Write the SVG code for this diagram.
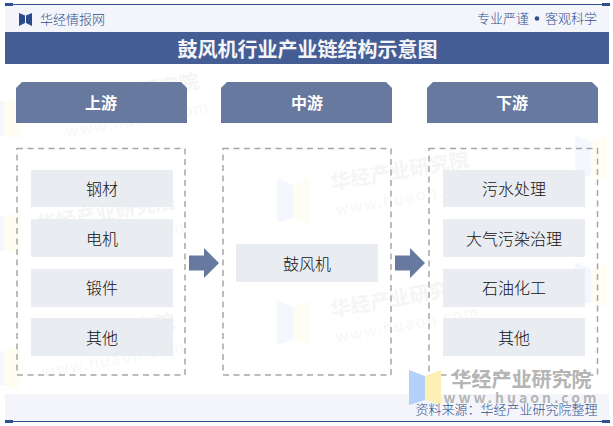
<svg xmlns="http://www.w3.org/2000/svg" xmlns:xlink="http://www.w3.org/1999/xlink" width="613" height="426" viewBox="0 0 613 426">
<style>
text{font-family:"Noto Sans CJK SC","Liberation Sans",sans-serif;text-anchor:middle}
.hd{fill:#67799f}
.hdt{font-size:16px;font-weight:700;fill:#fff}
.box{fill:none;stroke:#a6a6a6;stroke-width:1.5;stroke-dasharray:6 4.5}
.item{fill:#e9ecf1}
.t{font-size:16px;fill:#111;font-weight:300}
.nav{fill:#2f4f8f;font-size:13px;font-weight:300}
.wm{font-size:20px;font-weight:700;fill:#f5f5f5;text-anchor:start}
.wu{font-size:16px;fill:#f7f7f7;text-anchor:start;letter-spacing:1.5px}
.tab{fill:#2f4f8f}
</style>
<defs>
<g id="mark">
<g transform="rotate(-10)">
<text class="wm" x="0" y="0">华经产业研究院</text>
<text class="wu" x="0" y="26">www.huaon.com</text>
</g>
</g>
<g id="logo">
<polygon points="0,0 16,7 16,40 0,45" fill="#f4f8fe"/>
<polygon points="16,7 32,0 32,45 16,40" fill="#fefcf3"/>
</g>
</defs>
<rect width="613" height="426" fill="#fff"/>
<g id="watermarks">
<use xlink:href="#logo" x="-12" y="95"/>
<use xlink:href="#logo" x="277" y="178"/>
<use xlink:href="#logo" x="-12" y="210"/>
<use xlink:href="#logo" x="277" y="300"/>
<use xlink:href="#logo" x="-12" y="345"/>
<use xlink:href="#logo" x="575" y="135"/>
<use xlink:href="#logo" x="575" y="262"/>
<use xlink:href="#mark" x="62" y="112"/>
<use xlink:href="#mark" x="38" y="232"/>
<use xlink:href="#mark" x="38" y="352"/>
<use xlink:href="#mark" x="332" y="190"/>
<use xlink:href="#mark" x="332" y="317"/>
</g>
<g id="top-bar">
<rect x="5" y="5" width="604" height="27" fill="#f3f5fa"/>
<rect x="5" y="4" width="604" height="1" class="tab"/>
<rect x="5" y="3" width="8" height="3" class="tab"/>
<rect x="602" y="3" width="8" height="3" class="tab"/>
<polygon points="19,13 25,15.5 25,23 19,26" fill="#2a4a8a"/>
<polygon points="32,13 26,15.5 26,23 32,26" fill="#2a4a8a"/>
<text class="nav" x="72.500" y="24">华经情报网</text>
<text class="nav" x="503" y="23">专业严谨</text>
<circle cx="537" cy="18.500" r="2.300" fill="#2f4f8f"/>
<text class="nav" x="571" y="23">客观科学</text>
</g>
<g id="title">
<rect x="5" y="32" width="604" height="32" fill="#445d94"/>
<text x="307.500" y="57" font-size="20" font-weight="700" fill="#f4f5f8">鼓风机行业产业链结构示意图</text>
</g>
<g id="col-upstream">
<polygon class="hd" points="22,82 181,82 187,88 187,123 16,123 16,88"/>
<text class="hdt" x="101" y="109">上游</text>
<rect class="box" x="17" y="148.500" width="168" height="226.500"/>
</g>
<g id="col-midstream">
<polygon class="hd" points="227,82 386,82 392,88 392,123 221,123 221,88"/>
<text class="hdt" x="307" y="109">中游</text>
<rect class="box" x="223" y="148.500" width="168" height="226.500"/>
</g>
<g id="col-downstream">
<polygon class="hd" points="433,82 592,82 598,88 598,123 427,123 427,88"/>
<text class="hdt" x="512" y="109">下游</text>
<rect class="box" x="429" y="148.500" width="168.500" height="226.500"/>
</g>
<g id="n-gangcai"><rect class="item" x="31" y="170" width="142" height="37"/><text class="t" x="102" y="195">钢材</text></g>
<g id="n-dianji"><rect class="item" x="31" y="219" width="142" height="38"/><text class="t" x="102" y="245">电机</text></g>
<g id="n-duanjian"><rect class="item" x="31" y="269" width="142" height="38"/><text class="t" x="102" y="294">锻件</text></g>
<g id="n-qita1"><rect class="item" x="31" y="318" width="142" height="38"/><text class="t" x="102" y="344">其他</text></g>
<g id="n-gufengji"><rect class="item" x="236" y="244" width="142" height="38"/><text class="t" x="307" y="270">鼓风机</text></g>
<g id="n-wushui"><rect class="item" x="443" y="170" width="142" height="37"/><text class="t" x="514" y="195">污水处理</text></g>
<g id="n-daqi"><rect class="item" x="443" y="219" width="142" height="38"/><text class="t" x="514" y="245">大气污染治理</text></g>
<g id="n-shiyou"><rect class="item" x="443" y="269" width="142" height="38"/><text class="t" x="514" y="294">石油化工</text></g>
<g id="n-qita2"><rect class="item" x="443" y="318" width="142" height="38"/><text class="t" x="514" y="344">其他</text></g>
<g id="connectors">
<polygon class="hd" points="189,255.500 204,255.500 204,248 219,263 204,278 204,270.500 189,270.500"/>
<polygon class="hd" points="395,255.500 410,255.500 410,248 425,263 410,278 410,270.500 395,270.500"/>
</g>
<g id="bottom-bar">
<rect x="5" y="394" width="604" height="27" fill="#f3f5fa"/>
<rect x="5" y="421" width="604" height="1" class="tab"/>
<rect x="5" y="420" width="8" height="3" class="tab"/>
<rect x="602" y="420" width="8" height="3" class="tab"/>
<polygon points="409,370 425,376 425,400 409,405" fill="#b3d1fb"/>
<polygon points="425,376 441,370 441,405 425,400" fill="#fdf0b4"/>
<text x="521.500" y="387" font-size="20px" font-weight="700" fill="#b5b5b5">华经产业研究院</text>
<text x="521.500" y="403" font-size="14px" font-weight="700" fill="#b5b5b5" letter-spacing="3">www.huaon.com</text>
<text class="nav" x="506.500" y="414">资料来源：华经产业研究院整理</text>
</g>
</svg>
